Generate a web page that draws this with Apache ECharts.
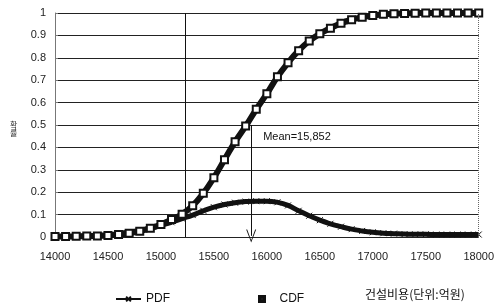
<!DOCTYPE html>
<html>
<head>
    <meta http-equiv=Content-Type content="text/html; charset=utf-8">
    <title>건설비용 분포</title>
    <script type="text/javascript" src="https://cdn.jsdelivr.net/npm/echarts@6/dist/echarts.min.js"></script>
    <style>
        html, body { margin: 0; padding: 0; background: #fff; }
        #chartmain { width: 497px; height: 308px; }
    </style>
</head>
<body>
<div id="chartmain"></div>
<script type="text/javascript">
    // 건설비용 (억원)
    var costs = [14000, 14100, 14200, 14300, 14400, 14500, 14600, 14700, 14800, 14900,
        15000, 15100, 15200, 15300, 15400, 15500, 15600, 15700, 15800, 15900,
        16000, 16100, 16200, 16300, 16400, 16500, 16600, 16700, 16800, 16900,
        17000, 17100, 17200, 17300, 17400, 17500, 17600, 17700, 17800, 17900, 18000];
    var pdfValues = [0.002, 0.002, 0.003, 0.004, 0.006, 0.010, 0.015, 0.022, 0.030, 0.040,
        0.052, 0.066, 0.082, 0.098, 0.117, 0.133, 0.145, 0.153, 0.158, 0.160,
        0.160, 0.155, 0.141, 0.117, 0.095, 0.075, 0.059, 0.046, 0.035, 0.027,
        0.021, 0.017, 0.015, 0.013, 0.012, 0.012, 0.011, 0.011, 0.011, 0.011, 0.011];
    var cdfValues = [0.002, 0.002, 0.003, 0.004, 0.005, 0.007, 0.011, 0.017, 0.026, 0.039,
        0.056, 0.078, 0.102, 0.140, 0.195, 0.265, 0.345, 0.425, 0.495, 0.570,
        0.640, 0.715, 0.778, 0.832, 0.875, 0.907, 0.932, 0.954, 0.970, 0.981,
        0.989, 0.994, 0.997, 0.998, 0.999, 1.000, 1.000, 1.000, 1.000, 1.000, 1.000];
    var meanCost = 15852;
    var refLine = 15225;

    var pdfData = [];
    var cdfData = [];
    for (var i = 0; i < costs.length; i++) {
        pdfData.push([costs[i], pdfValues[i]]);
        cdfData.push([costs[i], cdfValues[i]]);
    }

    var font = '"Liberation Sans", Arial, sans-serif';
    var myChart = echarts.init(document.getElementById('chartmain'));
    var option = {
        animation: false,
        backgroundColor: '#fff',
        grid: { left: 55, right: 17, top: 13, bottom: 71 },
        legend: {
            left: 110,
            top: 288,
            itemGap: 88,
            itemWidth: 25,
            itemHeight: 6,
            textStyle: { fontFamily: font, fontSize: 12, color: '#111' },
            data: [
                { name: 'PDF' },
                { name: 'CDF', icon: 'path://M0,0H10V10H0Z M3,3V7H7V3Z' }
            ]
        },
        xAxis: {
            type: 'value',
            min: 14000,
            max: 18000,
            interval: 500,
            axisLine: { show: false },
            axisTick: { show: false },
            splitLine: { show: false },
            axisLabel: {
                fontFamily: font, fontSize: 11, color: '#222', margin: 14,
                formatter: function (v) { return String(v); }
            }
        },
        yAxis: {
            type: 'value',
            min: 0,
            max: 1,
            interval: 0.1,
            axisLine: { show: true, lineStyle: { color: '#777', width: 1 } },
            axisTick: { show: true, inside: true, length: 3, lineStyle: { color: '#777' } },
            splitLine: { show: true, lineStyle: { color: '#222', width: 1 } },
            axisLabel: {
                fontFamily: font, fontSize: 11, color: '#222', margin: 9,
                formatter: function (v) { return v === 0 ? '0' : (v === 1 ? '1' : v.toFixed(1)); }
            }
        },
        series: [
            {
                name: 'PDF',
                type: 'line',
                data: pdfData,
                smooth: true,
                symbol: 'path://M0,0L10,10M10,0L0,10',
                symbolSize: 6,
                showAllSymbol: true,
                lineStyle: { color: '#111', width: 5 },
                itemStyle: { color: '#111', borderColor: '#111', borderWidth: 1 },
                markLine: {
                    silent: true,
                    symbol: 'none',
                    label: { show: false },
                    lineStyle: { color: '#111', width: 1, type: 'solid' },
                    data: [
                        { xAxis: refLine },
                        { xAxis: 18000, lineStyle: { color: '#666', type: 'dotted' } }
                    ]
                },
                z: 3
            },
            {
                name: 'CDF',
                type: 'line',
                data: cdfData,
                smooth: true,
                symbol: 'emptyRect',
                symbolSize: 7,
                showAllSymbol: true,
                lineStyle: { color: '#111', width: 6 },
                itemStyle: { color: '#111', borderColor: '#111', borderWidth: 2 },
                markLine: {
                    silent: true,
                    symbol: ['none', 'path://M5,0L10,12L9,12L5,2L1,12L0,12Z'],
                    symbolSize: [10, 13],
                    label: { show: false },
                    lineStyle: { color: '#111', width: 1, type: 'solid' },
                    data: [
                        [{ coord: [meanCost, 0.5] }, { coord: [meanCost, 0.005] }]
                    ]
                },
                markPoint: {
                    silent: true,
                    symbol: 'circle',
                    symbolSize: 0,
                    label: {
                        show: true,
                        position: 'right',
                        distance: 12,
                        formatter: 'Mean=15,852',
                        fontFamily: font,
                        fontSize: 11,
                        color: '#111'
                    },
                    data: [{ coord: [meanCost, 0.445] }]
                },
                z: 4
            }
        ],
        graphic: [
            {
                type: 'text',
                left: 10,
                top: 121,
                style: {
                    text: '확\n률',
                    font: '8px "Noto Sans CJK KR"',
                    lineHeight: 8,
                    fill: '#333'
                }
            },
            {
                type: 'text',
                left: 365,
                top: 288,
                style: {
                    text: '건설비용(단위:억원)',
                    font: '12px "Noto Sans CJK KR"',
                    fill: '#111'
                }
            }
        ]
    };
    myChart.setOption(option);
</script>
</body>
</html>
